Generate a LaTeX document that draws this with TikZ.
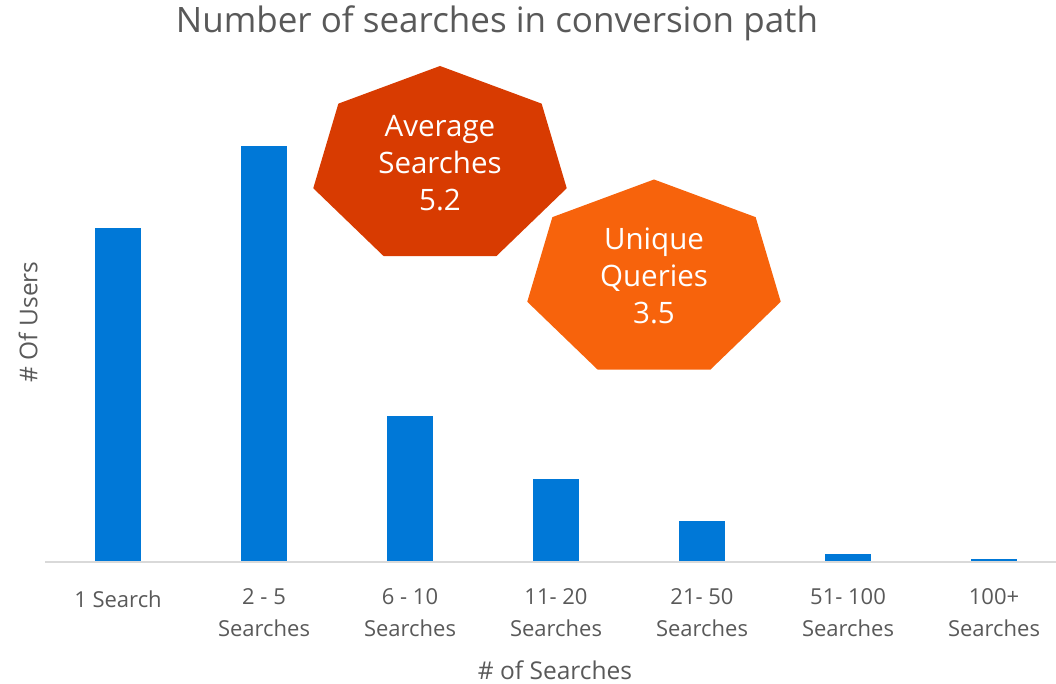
\documentclass[tikz,border=0pt]{standalone}
\usepackage{fontspec}
\setmainfont{Open Sans}
\usepackage{tikz}

\definecolor{barblue}{HTML}{0078D7}
\definecolor{avgred}{HTML}{D83B01}
\definecolor{uniqorange}{HTML}{F7630C}
\definecolor{txtgray}{HTML}{595959}
\definecolor{axisgray}{HTML}{D9D9D9}

\tikzset{
  bar/.style={fill=barblue, inner sep=0pt, minimum width=46pt, anchor=south},
  catlbl/.style={text=txtgray, align=center, font=\fontsize{22}{32}\selectfont},
  axlbl/.style={text=txtgray, font=\fontsize{24.5}{28}\selectfont},
  badge/.style={text=white, align=center, font=\fontsize{29.5}{37}\selectfont}
}
\newcommand\heptagon[2]{\fill[#2] (#1) +(90:130 and 100)
  \foreach \k in {1,...,6}{ -- +({90+\k*360/7}:130 and 100)} -- cycle;}

\begin{document}
\begin{tikzpicture}[x=1pt,y=1pt]
      \useasboundingbox (0,0) rectangle (1056,684);
      % title
      \node[text=txtgray, font=\fontsize{35}{40}\selectfont] (title) at (497,661) {Number of searches in conversion path};
      % bars
      \node[bar, minimum height=334pt] (b1) at (118,122) {};
      \node[bar, minimum height=416pt] (b2) at (264,122) {};
      \node[bar, minimum height=146pt] (b3) at (410,122) {};
      \node[bar, minimum height=83pt] (b4) at (556,122) {};
      \node[bar, minimum height=41pt] (b5) at (702,122) {};
      \node[bar, minimum height=8pt] (b6) at (848,122) {};
      \node[bar, minimum height=2.5pt] (b7) at (994,122) {};
      % axis
      \coordinate (ax0) at (45,122);
      \coordinate (ax1) at (1056,122);
      \draw[axisgray, line width=1.5pt] (ax0) -- (ax1);
      % categories
      \node[catlbl] (c1) at (118,85) {1 Search};
      \node[catlbl, anchor=north] (c2) at (264,99) {2 - 5\\Searches};
      \node[catlbl, anchor=north] (c3) at (410,99) {6 - 10\\Searches};
      \node[catlbl, anchor=north] (c4) at (556,99) {11- 20\\Searches};
      \node[catlbl, anchor=north] (c5) at (702,99) {21- 50\\Searches};
      \node[catlbl, anchor=north] (c6) at (848,99) {51- 100\\Searches};
      \node[catlbl, anchor=north] (c7) at (994,99) {100+\\Searches};
      % axis titles
      \node[axlbl] (xt) at (555,14) {\# of Searches};
      \node[axlbl, rotate=90] (yt) at (28,362) {\# Of Users};
      % badges
      \heptagon{440,518}{avgred}
      \heptagon{654,404.5}{uniqorange}
      \node[badge] (avg) at (440,521) {Average\\Searches\\5.2};
      \node[badge] (uniq) at (654,408) {Unique\\Queries\\3.5};
    \end{tikzpicture}
\end{document}
